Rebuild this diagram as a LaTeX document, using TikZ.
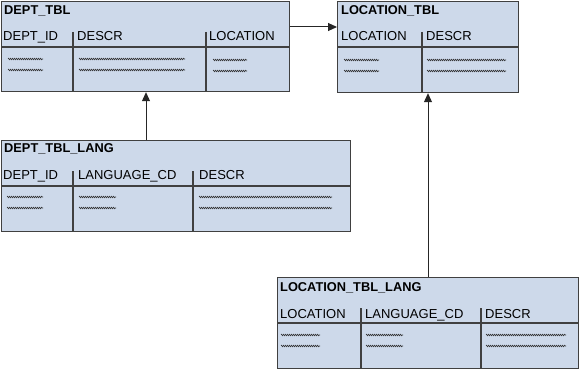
\documentclass[tikz,border=0pt]{standalone}
\usepackage{fontspec}
\setmainfont{Liberation Sans}
\usetikzlibrary{arrows.meta,decorations.pathmorphing}
\definecolor{boxblue}{RGB}{205,217,234}
\definecolor{edgegray}{RGB}{64,64,64}
\definecolor{wavegray}{RGB}{40,40,40}
\tikzset{
  tbl/.style={draw=edgegray, fill=boxblue, line width=1.2pt, inner sep=0pt, anchor=north west},
  divline/.style={draw=edgegray, line width=1.1pt},
  ttl/.style={inner sep=0pt, anchor=base west, font=\fontsize{12.8}{14}\selectfont\bfseries},
  hdr/.style={inner sep=0pt, anchor=base west, font=\fontsize{13}{15}\selectfont},
  wave/.style={draw=wavegray, line width=0.55pt, decorate, decoration={snake, segment length=2pt, amplitude=0.75pt}},
  conn/.style={draw=black!85, line width=1pt, -{Triangle[length=9pt,width=8pt]}}
}
\newcommand\wv[3]{\draw[wave] (#1,#3) -- (#2,#3);}
\begin{document}
\begin{tikzpicture}[x=1pt,y=-1pt]
\useasboundingbox (0,0) rectangle (579,369);

% ---- DEPT_TBL
\node[tbl, minimum width=288pt, minimum height=90pt] (A) at (1,1) {};
\draw[divline] (1,47) -- (289,47);
\draw[divline] (73,32) -- (73,91);
\draw[divline] (206,32) -- (206,91);
\node[ttl] (At) at (4,15) {DEPT\_TBL};
\node[hdr] (Ah1) at (3,41) {DEPT\_ID};
\node[hdr] (Ah2) at (77,41) {DESCR};
\node[hdr] (Ah3) at (209,41) {LOCATION};
\wv{8}{43}{59}\wv{8}{43}{70}
\wv{79}{185}{59}\wv{79}{185}{70}
\wv{213}{247}{60}\wv{213}{247}{71}

% ---- LOCATION_TBL
\node[tbl, minimum width=181pt, minimum height=91pt] (B) at (337,1) {};
\draw[divline] (337,47) -- (518,47);
\draw[divline] (422,32) -- (422,92);
\node[ttl] (Bt) at (341,15) {LOCATION\_TBL};
\node[hdr] (Bh1) at (341,41) {LOCATION};
\node[hdr] (Bh2) at (426,41) {DESCR};
\wv{344}{379}{60}\wv{344}{379}{71}
\wv{427}{506}{60}\wv{427}{506}{71}

% ---- DEPT_TBL_LANG
\node[tbl, minimum width=349pt, minimum height=91pt] (C) at (1,140) {};
\draw[divline] (1,186) -- (350,186);
\draw[divline] (73,171) -- (73,231);
\draw[divline] (193,171) -- (193,231);
\node[ttl] (Ct) at (4,153) {DEPT\_TBL\_LANG};
\node[hdr] (Ch1) at (3,179) {DEPT\_ID};
\node[hdr] (Ch2) at (78,179) {LANGUAGE\_CD};
\node[hdr] (Ch3) at (199,179) {DESCR};
\wv{7}{43}{197}\wv{7}{43}{208}
\wv{79}{116}{197}\wv{79}{116}{208}
\wv{199}{332}{197}\wv{199}{332}{208}

% ---- LOCATION_TBL_LANG
\node[tbl, minimum width=301pt, minimum height=91pt] (D) at (277,277) {};
\draw[divline] (277,323) -- (578,323);
\draw[divline] (361,308) -- (361,368);
\draw[divline] (481,308) -- (481,368);
\node[ttl] (Dt) at (280,291) {LOCATION\_TBL\_LANG};
\node[hdr] (Dh1) at (280,318) {LOCATION};
\node[hdr] (Dh2) at (365,318) {LANGUAGE\_CD};
\node[hdr] (Dh3) at (485,318) {DESCR};
\wv{281}{320}{335}\wv{281}{320}{346}
\wv{366}{403}{335}\wv{366}{403}{346}
\wv{486}{566}{335}\wv{486}{566}{346}

% ---- connectors
\coordinate (yab) at (0,27);
\coordinate (xca) at (146,0);
\coordinate (xdb) at (428,0);
\draw[conn] (A.east |- yab) -- (B.west |- yab);
\draw[conn] (C.north -| xca) -- (A.south -| xca);
\draw[conn] (D.north -| xdb) -- (B.south -| xdb);
\end{tikzpicture}
\end{document}
